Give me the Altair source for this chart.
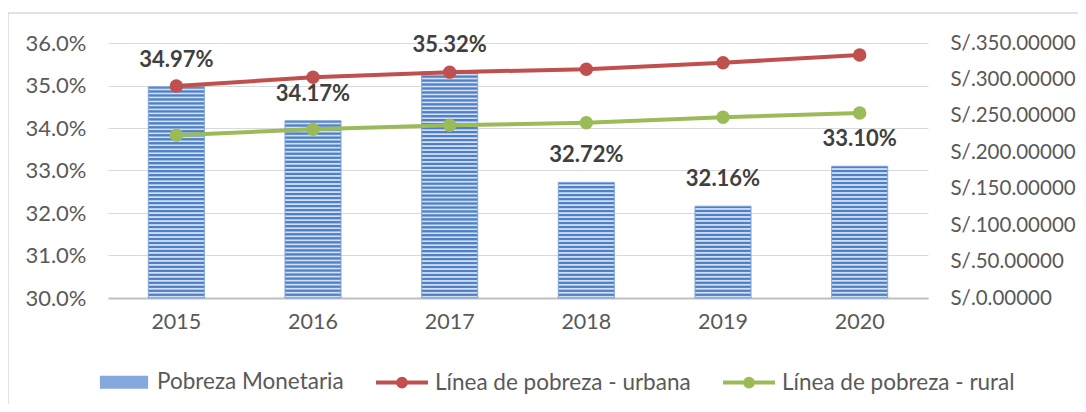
import altair as alt
import pandas as pd

years = ["2015", "2016", "2017", "2018", "2019", "2020"]
pobreza = [0.3497, 0.3417, 0.3532, 0.3272, 0.3216, 0.3310]
urbana = [291.0, 303.0, 310.0, 314.0, 323.0, 333.5]
rural = [223.5, 231.5, 237.0, 240.5, 248.0, 254.0]
series = ["Pobreza Monetaria", "Línea de pobreza - urbana", "Línea de pobreza - rural"]

FONT = "Lato"
GRAY = "#595959"
RED = "#C0504D"
GREEN = "#9BBB59"
DARK = "#4F80C6"
LIGHT = "#D3E0F3"
FS = 22

W, H = 820, 255
Y_MIN, Y_MAX = 0.30, 0.36

df = pd.DataFrame({"year": years, "pobreza": pobreza, "urbana": urbana, "rural": rural})

x_enc = alt.X(
    "year:N",
    sort=years,
    scale=alt.Scale(paddingInner=0.59, paddingOuter=0.295),
    axis=alt.Axis(
        title=None, labelAngle=0, ticks=False, labelPadding=13,
        labelFont=FONT, labelFontSize=21.5, labelColor=GRAY,
        domainColor="#BFBFBF", domainWidth=2, grid=False,
    ),
)

y_left = alt.Y(
    "pobreza:Q",
    scale=alt.Scale(domain=[Y_MIN, Y_MAX], zero=False, nice=False),
    axis=alt.Axis(
        title=None, format=".1%", values=[0.30, 0.31, 0.32, 0.33, 0.34, 0.35, 0.36],
        ticks=False, domain=False, labelPadding=22, labelOverlap=False,
        labelFont=FONT, labelFontSize=FS, labelColor=GRAY,
        grid=True, gridColor="#D9D9D9", gridWidth=1,
    ),
)


def stripes(value):
    px = (value - Y_MIN) / (Y_MAX - Y_MIN) * H
    n = max(1, round(px / 4.0))
    stops = []
    for i in range(n):
        a = i / n
        stops += [
            alt.GradientStop(offset=a, color=DARK),
            alt.GradientStop(offset=(i + 0.35) / n, color=DARK),
            alt.GradientStop(offset=(i + 0.6) / n, color=LIGHT),
            alt.GradientStop(offset=(i + 0.8) / n, color=LIGHT),
            alt.GradientStop(offset=(i + 1) / n, color=DARK),
        ]
    return alt.LinearGradient(gradient="linear", x1=0, y1=0, x2=0, y2=1, stops=stops)


base = alt.Chart(df)

bar_layers = []
for yr, val in zip(years, pobreza):
    bar_layers.append(
        base.transform_filter(alt.datum.year == yr)
        .mark_bar(fill=stripes(val), stroke="#7FA3D8", strokeWidth=1)
        .encode(x=x_enc, y=y_left, y2=alt.datum(Y_MIN))
    )

labels = base.mark_text(
    font=FONT, fontSize=22, fontWeight="bold", color="#404040",
    baseline="bottom", dy=-15,
).encode(x=x_enc, y=y_left, text=alt.Text("pobreza:Q", format=".2%"))

bars_group = alt.layer(*bar_layers, labels)

y_right_scale = alt.Scale(domain=[0, 350], nice=False)
right_axis = alt.Axis(
    title=None, orient="right", values=[0, 50, 100, 150, 200, 250, 300, 350],
    labelExpr="'S/.' + format(datum.value, '.5f')", labelOverlap=False,
    ticks=False, domain=False, grid=False, labelPadding=22,
    labelFont=FONT, labelFontSize=20.5, labelColor=GRAY,
)

urb_line = base.mark_line(color=RED, strokeWidth=4).encode(
    x=x_enc, y=alt.Y("urbana:Q", scale=y_right_scale, axis=right_axis)
)
urb_pts = base.mark_circle(color=RED, size=180, opacity=1).encode(
    x=x_enc, y=alt.Y("urbana:Q", scale=y_right_scale, axis=right_axis)
)
rur_line = base.mark_line(color=GREEN, strokeWidth=4).encode(
    x=x_enc, y=alt.Y("rural:Q", scale=y_right_scale, axis=right_axis)
)
rur_pts = base.mark_circle(color=GREEN, size=180, opacity=1).encode(
    x=x_enc, y=alt.Y("rural:Q", scale=y_right_scale, axis=right_axis)
)

# legend (dummy layer, no marks drawn, legend built from explicit domain)
leg_df = pd.DataFrame({"serie": series})
rect_path = "M-0.85,-0.17H0.85V0.17H-0.85Z"
line_path = ("M-1,0H1M-0.15,0A0.15,0.15 0 1,0 0.15,0"
             "A0.15,0.15 0 1,0 -0.15,0Z")
legend = alt.Legend(
    title=None, orient="none", direction="horizontal", legendX=-12, legendY=311,
    labelFont=FONT, labelFontSize=22.5, labelColor=GRAY, labelOffset=5, labelLimit=500,
    symbolSize=2704, symbolStrokeWidth=4, columnPadding=24, symbolOpacity=1,
)
leg_colors = ["#86A9DD", RED, GREEN]
legend_layer = (
    alt.Chart(leg_df)
    .transform_filter("false")
    .mark_point(filled=True, strokeWidth=4, opacity=1)
    .encode(
        fill=alt.Fill("serie:N", scale=alt.Scale(domain=series, range=leg_colors), legend=legend),
        stroke=alt.Stroke("serie:N", scale=alt.Scale(domain=series, range=leg_colors), legend=legend),
        shape=alt.Shape("serie:N", scale=alt.Scale(domain=series, range=[rect_path, line_path, line_path]), legend=legend),
    )
)

lines_group = alt.layer(urb_line, urb_pts, rur_line, rur_pts, legend_layer)

frame = alt.Chart(pd.DataFrame({"k": [0]})).mark_rect(
    fill=None, stroke="#D9D9D9", strokeWidth=1.5
).encode(
    x=alt.value(-100), x2=alt.value(1100), y=alt.value(-30), y2=alt.value(500)
)

chart = (
    alt.layer(frame, bars_group, lines_group)
    .resolve_scale(y="independent")
    .properties(
        width=W, height=H,
        autosize=alt.AutoSizeParams(type="none"),
        padding={"left": 100, "top": 35, "right": 150, "bottom": 106},
    )
    .configure_view(stroke=None)
    .configure_axis(labelOverlap=False)
)

chart.save("out.html", embed_options={"renderer": "svg", "actions": False})
